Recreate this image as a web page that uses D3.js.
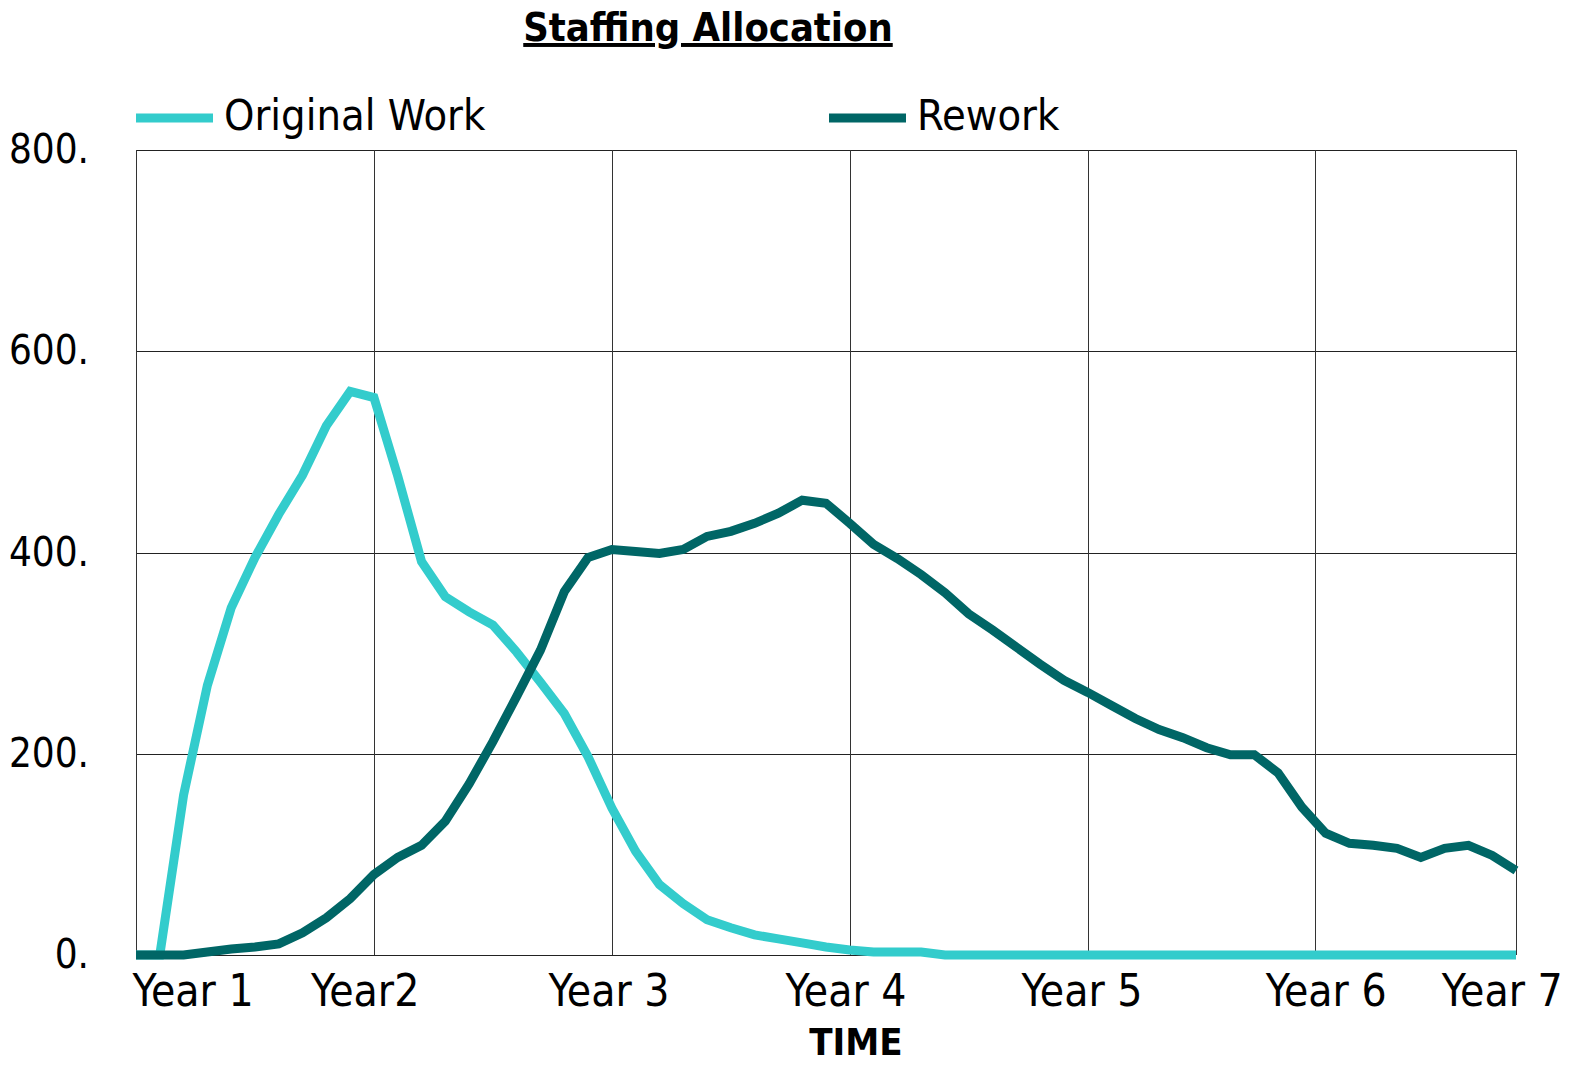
<!DOCTYPE html>
<html>
<head>
<meta charset="utf-8">
<script src="https://cdn.jsdelivr.net/npm/d3@7"></script>
<style>
  html, body { margin: 0; padding: 0; background: #fff; }
  svg text { font-family: "DejaVu Sans Condensed", "DejaVu Sans", sans-serif; font-stretch: condensed; fill: #000; }
</style>
</head>
<body>
<svg id="chart" width="1573" height="1066"></svg>
<script>
// ---- data (x = time step index, 10 steps per year grid) ----
const seriesNames = ["Original Work", "Rework"];
const seriesColors = ["#33CCCC", "#006666"];
const originalWork = [0,0,159,268,345,395,438,477,526,560,
  554,476,391,356,341,328,301,271,240,197,
  146,103,70,51,35,27,20,16,12,8,
  5,3,3,3,0,0,0,0,0,0,
  0,0,0,0,0,0,0,0,0,0,
  0,0,0,0,0,0,0,0,0];
const rework = [0,0,0,3,6,8,11,22,37,56,
  80,97,109,133,170,212,257,303,361,395,
  403,401,399,403,416,421,429,439,452,449,
  429,408,394,378,360,339,323,306,289,273,
  261,248,235,224,216,206,199,199,181,147,
  121,111,109,106,97,106,109,99,84];
const xGridValues = [0, 10, 20, 30, 40, 49.56, 58];
const xTickLabels = ["Year 1", "Year2", "Year 3", "Year 4", "Year 5", "Year 6", "Year 7"];
const xTickLabelPos = [2.4, 9.63, 19.88, 29.84, 39.76, 50.02, 57.42];
const yTicks = [0, 200, 400, 600, 800];
const yTickLabels = ["0.", "200.", "400.", "600.", "800."];

// ---- layout ----
const svg = d3.select("#chart");
const plotLeft = 136, plotRight = 1516, plotTop = 150, plotBottom = 955;
const x = d3.scaleLinear().domain([0, 58]).range([plotLeft, plotRight]);
const y = d3.scaleLinear().domain([0, 800]).range([plotBottom, plotTop]);

// grid
const g = svg.append("g");
g.selectAll("line.h").data(yTicks).join("line")
  .attr("x1", plotLeft).attr("x2", plotRight)
  .attr("y1", d => Math.round(y(d)) + 0.5).attr("y2", d => Math.round(y(d)) + 0.5)
  .attr("stroke", "#222").attr("stroke-width", 1);
g.selectAll("line.v").data(xGridValues).join("line")
  .attr("x1", d => Math.round(x(d)) + 0.5).attr("x2", d => Math.round(x(d)) + 0.5)
  .attr("y1", plotTop).attr("y2", plotBottom)
  .attr("stroke", "#333").attr("stroke-width", 1);

// y labels
svg.selectAll("text.ylab").data(yTicks).join("text")
  .attr("class", "ylab")
  .attr("x", 89).attr("y", d => y(d) + 13)
  .attr("text-anchor", "end")
  .attr("font-size", 40)
  .text((d, i) => yTickLabels[i]);

// x labels
svg.selectAll("text.xlab").data(xTickLabels).join("text")
  .attr("class", "xlab")
  .attr("x", (d, i) => x(xTickLabelPos[i])).attr("y", 1006)
  .attr("text-anchor", "middle")
  .attr("font-size", 44)
  .text(d => d);

// axis title
svg.append("text").attr("x", 856).attr("y", 1055)
  .attr("text-anchor", "middle").attr("font-size", 38).attr("font-weight", "bold")
  .text("TIME");

// title
svg.append("text").attr("x", 708).attr("y", 41)
  .attr("text-anchor", "middle").attr("font-size", 39.5).attr("font-weight", "bold")
  .attr("text-decoration", "underline")
  .text("Staffing Allocation");

// lines
const line = d3.line().x((d, i) => x(i)).y(d => y(d));
[originalWork, rework].forEach((data, k) => {
  svg.append("path").datum(data)
    .attr("d", line)
    .attr("fill", "none")
    .attr("stroke", seriesColors[k])
    .attr("stroke-width", 9)
    .attr("stroke-linejoin", "miter");
});

// legend
const legendX = [136, 829];
seriesNames.forEach((name, k) => {
  svg.append("line")
    .attr("x1", legendX[k]).attr("x2", legendX[k] + 77)
    .attr("y1", 118).attr("y2", 118)
    .attr("stroke", seriesColors[k]).attr("stroke-width", 9);
  svg.append("text")
    .attr("x", legendX[k] + 88).attr("y", 130)
    .attr("font-size", 43)
    .text(name);
});
</script>
</body>
</html>
